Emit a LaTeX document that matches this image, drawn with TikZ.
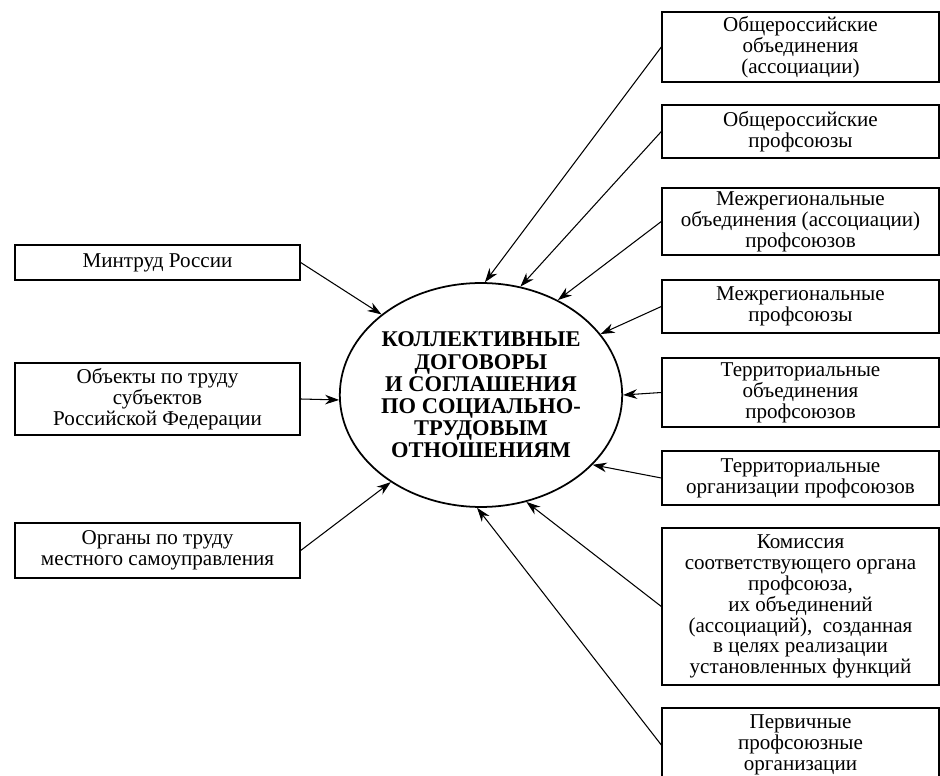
\documentclass[tikz,border=0pt]{standalone}
\usepackage{fontspec}
\setmainfont{Liberation Serif}
\usetikzlibrary{arrows.meta,shapes.geometric}

\begin{document}
\begin{tikzpicture}[x=0.02cm,y=-0.02cm,
    box/.style={draw,line width=0.8pt,align=center,inner sep=1pt,font=\fontsize{12}{11.9}\selectfont},
    rbox/.style={box,minimum width=5.54cm},
    lbox/.style={box,minimum width=5.7cm},
    arr/.style={-{Stealth[length=8pt,width=5.5pt]},line width=0.6pt}]
  \useasboundingbox (0,0) rectangle (940,776);
  \clip (0,0) rectangle (940,776);
  % centre
  \node[ellipse,draw,line width=1pt,minimum width=5.16cm,minimum height=4.48cm,inner sep=0pt,align=center,
        font=\bfseries\fontsize{12.8}{12.6}\selectfont] (kd) at (481,395)
        {КОЛЛЕКТИВНЫЕ\\ДОГОВОРЫ\\И СОГЛАШЕНИЯ\\ПО СОЦИАЛЬНО-\\ТРУДОВЫМ\\ОТНОШЕНИЯМ};
  % left column
  \node[lbox,minimum height=0.7cm] (mintrud) at (157.5,262.5) {Минтруд России};
  \node[lbox,minimum height=1.44cm] (subj) at (157.5,399) {Объекты по труду\\субъектов\\Российской Федерации};
  \node[lbox,minimum height=1.1cm] (mest) at (157.5,550.5) {Органы по труду\\местного самоуправления};
  % right column
  \node[rbox,minimum height=1.4cm] (obsch) at (800.5,47) {Общероссийские\\объединения\\(ассоциации)};
  \node[rbox,minimum height=1.06cm] (obprof) at (800.5,131.5) {Общероссийские\\профсоюзы};
  \node[rbox,minimum height=1.34cm] (mezhob) at (800.5,221.5) {Межрегиональные\\объединения (ассоциации)\\профсоюзов};
  \node[rbox,minimum height=1.06cm] (mezhprof) at (800.5,306.5) {Межрегиональные\\профсоюзы};
  \node[rbox,minimum height=1.38cm] (terob) at (800.5,392.5) {Территориальные\\объединения\\профсоюзов};
  \node[rbox,minimum height=1.08cm] (terorg) at (800.5,478) {Территориальные\\организации профсоюзов};
  \node[rbox,minimum height=3.14cm] (komis) at (800.5,606.5) {Комиссия\\соответствующего органа\\профсоюза,\\их объединений\\(ассоциаций),~ созданная\\в целях реализации\\установленных функций};
  \node[rbox,minimum height=1.48cm] (perv) at (800.5,745) {Первичные\\профсоюзные\\организации};
  % arrows
  \draw[arr] (mintrud.east) -- (kd.141);
  \draw[arr] (subj.east) -- (kd.182);
  \draw[arr] (mest.east) -- (kd.224);
  \draw[arr] (obsch.west) -- (kd.88);
  \draw[arr] (obprof.west) -- (kd.70);
  \draw[arr] (mezhob.west) -- (kd.51.6);
  \draw[arr] (mezhprof.west) -- (kd.27);
  \draw[arr] (terob.west) -- (kd.0);
  \draw[arr] (terorg.west) -- (kd.-32);
  \draw[arr] (komis.west) -- (kd.-67);
  \draw[arr] (perv.west) -- (kd.-92);
\end{tikzpicture}
\end{document}
